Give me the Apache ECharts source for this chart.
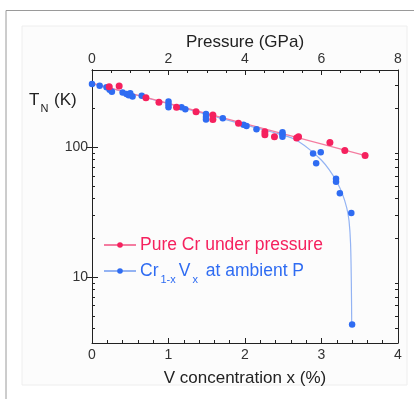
<!DOCTYPE html>
<html>
<head>
<meta charset="utf-8">
<script src="https://cdn.jsdelivr.net/npm/echarts@6/dist/echarts.min.js"></script>
<style>
  html, body { margin: 0; padding: 0; background: #fff; }
  #chart { width: 414px; height: 399px; }
</style>
</head>
<body>
<div id="chart"></div>
<script>
// pure Cr under pressure (GPa, K)
const redP = [0.45, 0.71, 1.41, 1.75, 2.21, 2.72, 3.16, 3.16, 3.83, 4.52, 4.52, 4.77, 5.35, 5.4, 6.22, 6.61, 7.14];
const redT = [291, 294, 239, 221, 202, 187, 176, 163, 152, 131, 124, 120, 117, 120, 108, 94, 86];
// fitted line for pure Cr
const redFitP = [0, 7.2];
const redFitT = [310, 85];

// Cr(1-x)V(x) at ambient pressure (V %, K)
const blueX = [0, 0.1, 0.19, 0.23, 0.26, 0.4, 0.45, 0.48, 0.5, 0.53, 0.65, 1.0, 1.0, 1.0, 1.17, 1.22,
  1.49, 1.49, 1.49, 1.71, 1.98, 2.02, 2.15, 2.49, 2.49, 2.49, 2.89, 2.99, 2.93, 3.19, 3.19, 3.24, 3.39, 3.4];
const blueT = [305, 296, 288, 275, 266, 263, 256, 250, 259, 244, 248, 224, 212, 202, 202, 195,
  179, 170, 163, 166, 148, 145, 137, 130, 125, 120, 89, 91, 75, 57, 54, 44, 31, 4.3];
// fitted curve for the alloys
const blueFitX = [0, 0.5, 1.0, 1.5, 2.0, 2.4, 2.6, 2.7, 2.85, 3.0, 3.1, 3.2, 3.27, 3.33, 3.36, 3.38, 3.39, 3.395];
const blueFitT = [305, 258, 215, 178, 148, 128, 118, 110, 95, 79, 67, 54, 44, 34, 27, 18, 9, 4.3];

const majorTicks = [10, 100];
const minorTicks = [4, 5, 6, 7, 8, 9, 20, 30, 40, 50, 60, 70, 80, 90, 200, 300];

const redDot = '#f5215e';
const redLine = '#f47ca0';
const blueDot = '#2f6cf2';
const blueLine = '#93b3f3';

const pairs = (xs, ys) => xs.map((x, i) => [x, ys[i]]);

const chart = echarts.init(document.getElementById('chart'));

const font = 'Liberation Sans, Arial, sans-serif';
const logAxis = (pos, ticks, len, labels) => ({
  type: 'log',
  position: pos,
  min: 3.1,
  max: 391,
  axisLine: { show: true, lineStyle: { color: '#222', width: 1 } },
  axisTick: { show: true, inside: true, length: len, customValues: ticks, lineStyle: { color: '#222' } },
  axisLabel: labels
    ? { show: true, customValues: majorTicks, fontSize: 14, color: '#333', margin: 4, fontFamily: font }
    : { show: false },
  splitLine: { show: false }
});

chart.setOption({
  animation: false,
  grid: { left: 92, right: 16, top: 70, bottom: 56 },
  graphic: [
    { type: 'polyline', shape: { points: [[6, 399], [6, 10.5], [414, 10.5]] },
      style: { stroke: '#9a9a9a', lineWidth: 1, fill: null }, z: -10 },
    { type: 'rect', shape: { x: 22, y: 26, width: 385, height: 359 },
      style: { fill: '#fcfcfc', stroke: '#eeeeee', lineWidth: 1 }, z: -11 },
    { type: 'text', x: 245, y: 42,
      style: { text: 'Pressure (GPa)', fontSize: 17, fontFamily: font, fill: '#222',
        align: 'center', verticalAlign: 'middle' } },
    { type: 'text', left: 29, top: 92,
      style: {
        text: '{t|T}{s|N}{t| (K)}',
        rich: {
          t: { fontSize: 17, fontFamily: font, fill: '#222' },
          s: { fontSize: 11, fontFamily: font, fill: '#222', padding: [16, 1, 0, 1] }
        }
      } }
  ],
  legend: {
    orient: 'vertical',
    left: 98,
    top: 231,
    itemWidth: 32,
    itemHeight: 7,
    itemGap: 8,
    data: ['Pure Cr under pressure', 'alloy'],
    formatter: name => name === 'alloy'
      ? '{b|Cr}{s|1-x}{b|V}{s|x}{b| at ambient P}'
      : '{a|' + name + '}',
    textStyle: {
      padding: [0, 0, 0, -1],
      rich: {
        a: { fontSize: 17.5, fontFamily: font, color: redDot },
        b: { fontSize: 17.5, fontFamily: font, color: blueDot },
        s: { fontSize: 11, fontFamily: font, color: blueDot, padding: [18, 3, 0, 2] }
      }
    }
  },
  xAxis: [
    {
      type: 'value', position: 'bottom', min: 0, max: 4, interval: 1,
      name: 'V concentration x (%)', nameLocation: 'middle', nameGap: 27,
      nameTextStyle: { fontSize: 17, color: '#222', fontFamily: font },
      axisLine: { show: true, lineStyle: { color: '#222', width: 1 } },
      axisTick: { inside: true, length: 5, lineStyle: { color: '#222' } },
      minorTick: { show: true, splitNumber: 5, length: 3, lineStyle: { color: '#222' } },
      axisLabel: { fontSize: 14, color: '#333', margin: 5, fontFamily: font },
      splitLine: { show: false }
    },
    {
      type: 'value', position: 'top', min: 0, max: 8, interval: 2,
      axisLine: { show: true, lineStyle: { color: '#222', width: 1 } },
      axisTick: { inside: true, length: 5, lineStyle: { color: '#222' } },
      minorTick: { show: true, splitNumber: 4, length: 3, lineStyle: { color: '#222' } },
      axisLabel: { fontSize: 14, color: '#333', margin: 4, fontFamily: font },
      splitLine: { show: false }
    }
  ],
  yAxis: [
    logAxis('left', majorTicks, 6, true),
    logAxis('right', majorTicks, 6, false),
    logAxis('left', minorTicks, 3, false),
    logAxis('right', minorTicks, 3, false)
  ],
  series: [
    {
      name: 'Pure Cr under pressure', type: 'line', xAxisIndex: 1, yAxisIndex: 0,
      data: pairs(redFitP, redFitT),
      symbol: 'circle', symbolSize: 6, showSymbol: false,
      lineStyle: { color: redLine, width: 1.2 },
      itemStyle: { color: redDot }, z: 2
    },
    {
      name: 'alloy', type: 'line', xAxisIndex: 0, yAxisIndex: 0,
      data: pairs(blueFitX, blueFitT), smooth: 0.3,
      symbol: 'circle', symbolSize: 6, showSymbol: false,
      lineStyle: { color: blueLine, width: 1.2 },
      itemStyle: { color: blueDot }, z: 1
    },
    {
      name: 'redPts', type: 'scatter', xAxisIndex: 1, yAxisIndex: 0,
      data: pairs(redP, redT), symbolSize: 7,
      itemStyle: { color: redDot, opacity: 1 }, z: 4
    },
    {
      name: 'bluePts', type: 'scatter', xAxisIndex: 0, yAxisIndex: 0,
      data: pairs(blueX, blueT), symbolSize: 6.5,
      itemStyle: { color: blueDot, opacity: 1 }, z: 3
    }
  ]
});
</script>
</body>
</html>
